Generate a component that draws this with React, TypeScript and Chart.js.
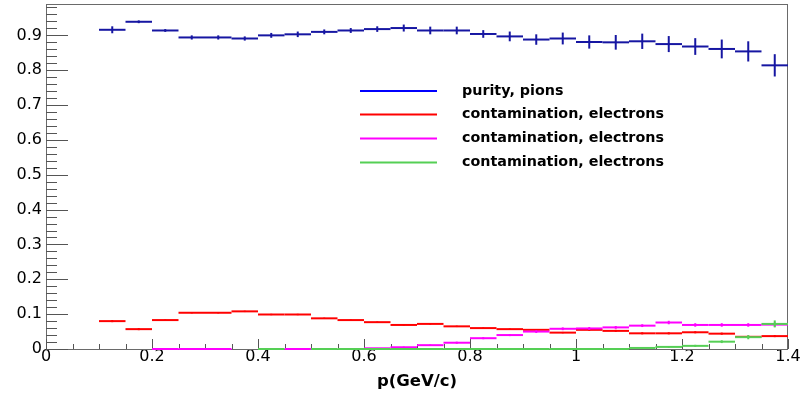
import React, { useEffect, useRef } from "react";
import { Chart, registerables } from "chart.js";

Chart.register(...registerables);

// ---- data ----
const binCenters = [
  0.125, 0.175, 0.225, 0.275, 0.325, 0.375, 0.425, 0.475, 0.525, 0.575, 0.625, 0.675, 0.725,
  0.775, 0.825, 0.875, 0.925, 0.975, 1.025, 1.075, 1.125, 1.175, 1.225, 1.275, 1.325, 1.375,
];
const binHalfWidth = 0.025;

const pionPurity = [
  0.916, 0.939, 0.914, 0.894, 0.894, 0.891, 0.9, 0.903, 0.91, 0.914, 0.918, 0.921, 0.914,
  0.914, 0.904, 0.897, 0.888, 0.891, 0.881, 0.88, 0.883, 0.875, 0.868, 0.861, 0.854, 0.814,
];
const pionPurityErr = [
  0.01, 0.004, 0.004, 0.006, 0.006, 0.006, 0.007, 0.008, 0.007, 0.007, 0.008, 0.01, 0.011,
  0.011, 0.011, 0.014, 0.015, 0.017, 0.019, 0.021, 0.022, 0.023, 0.024, 0.027, 0.029, 0.032,
];

const electronContamA = [
  0.08, 0.057, 0.083, 0.104, 0.104, 0.108, 0.099, 0.099, 0.088, 0.083, 0.077, 0.069, 0.072,
  0.065, 0.06, 0.057, 0.055, 0.047, 0.055, 0.052, 0.045, 0.045, 0.048, 0.044, 0.035, 0.037,
];
const electronContamAErr = [
  0.003, 0.003, 0.002, 0.002, 0.002, 0.002, 0.002, 0.002, 0.002, 0.002, 0.002, 0.002, 0.002,
  0.002, 0.002, 0.002, 0.002, 0.002, 0.003, 0.003, 0.003, 0.003, 0.003, 0.003, 0.003, 0.003,
];

const electronContamB = [
  null, null, 0, 0, 0, null, null, 0, null, null, 0.002, 0.005, 0.011,
  0.018, 0.031, 0.04, 0.05, 0.058, 0.059, 0.062, 0.067, 0.076, 0.069, 0.069, 0.069, 0.07,
];
const electronContamBErr = [
  0, 0, 0, 0, 0, 0, 0, 0, 0, 0, 0.001, 0.002, 0.002,
  0.003, 0.003, 0.003, 0.004, 0.004, 0.004, 0.004, 0.004, 0.005, 0.005, 0.005, 0.005, 0.006,
];

const electronContamC = [
  null, null, null, null, null, null, 0, null, 0, 0, 0, 0, 0,
  0, 0, 0, 0, 0, 0, 0, 0.003, 0.006, 0.009, 0.021, 0.034, 0.072,
];
const electronContamCErr = [
  0, 0, 0, 0, 0, 0, 0, 0, 0, 0, 0, 0, 0,
  0, 0, 0, 0, 0, 0, 0, 0.001, 0.002, 0.003, 0.004, 0.006, 0.01,
];

const xTickValues = [0, 0.2, 0.4, 0.6, 0.8, 1.0, 1.2, 1.4];
const xTickLabels = ["0", "0.2", "0.4", "0.6", "0.8", "1", "1.2", "1.4"];
const yTickValues = [0, 0.1, 0.2, 0.3, 0.4, 0.5, 0.6, 0.7, 0.8, 0.9];
const yTickLabels = ["0", "0.1", "0.2", "0.3", "0.4", "0.5", "0.6", "0.7", "0.8", "0.9"];

const xAxisTitle = "p(GeV/c)";
const legendLabels = [
  "purity, pions",
  "contamination, electrons",
  "contamination, electrons",
  "contamination, electrons",
];
const seriesColors = ["#1616a2", "#ff0000", "#ff00ff", "#55cf55"];
const legendColors = ["#0000ff", "#ff0000", "#ff00ff", "#55cf55"];

const seriesValues = [pionPurity, electronContamA, electronContamB, electronContamC];
const seriesErrors = [pionPurityErr, electronContamAErr, electronContamBErr, electronContamCErr];

// ---- plugins ----
const framePlugin = {
  id: "rootFrame",
  beforeDatasetsDraw(chart: any) {
    const { ctx, chartArea: a, scales } = chart;
    const xs = scales.x;
    const ys = scales.y;
    ctx.save();
    ctx.strokeStyle = "#6a6a6a";
    ctx.lineWidth = 1;
    ctx.strokeRect(Math.round(a.left) + 0.5, Math.round(a.top) + 0.5, Math.round(a.right - a.left) - 1, Math.round(a.bottom - a.top));
    ctx.strokeStyle = "#555555";
    ctx.beginPath();
    // x ticks
    for (let i = 0; i <= 28; i++) {
      const v = i * 0.05;
      const px = Math.round(xs.getPixelForValue(v)) + 0.5;
      const len = i % 4 === 0 ? 10 : 5;
      ctx.moveTo(px, a.bottom);
      ctx.lineTo(px, a.bottom - len);
    }
    // y ticks
    for (let i = 0; i <= 49; i++) {
      const v = i * 0.02;
      if (v > ys.max) break;
      const py = Math.round(ys.getPixelForValue(v)) + 0.5;
      const len = i % 5 === 0 ? 22 : 11;
      ctx.moveTo(a.left, py);
      ctx.lineTo(a.left + len, py);
    }
    ctx.stroke();
    ctx.restore();
  },
};

const histPlugin = {
  id: "histCrosses",
  afterDatasetsDraw(chart: any) {
    const { ctx, scales } = chart;
    const xs = scales.x;
    const ys = scales.y;
    chart.data.datasets.forEach((ds: any) => {
      ctx.save();
      ctx.strokeStyle = ds.borderColor;
      ctx.lineWidth = 2;
      ds.data.forEach((p: any) => {
        if (p.y === null || p.y === undefined) return;
        const xl = xs.getPixelForValue(p.x - binHalfWidth);
        const xr = xs.getPixelForValue(p.x + binHalfWidth);
        const xc = xs.getPixelForValue(p.x);
        const yc = ys.getPixelForValue(p.y);
        ctx.beginPath();
        ctx.moveTo(xl, yc);
        ctx.lineTo(xr, yc);
        ctx.stroke();
        if (p.e > 0) {
          ctx.beginPath();
          ctx.moveTo(xc, ys.getPixelForValue(p.y - p.e));
          ctx.lineTo(xc, ys.getPixelForValue(p.y + p.e));
          ctx.stroke();
        }
      });
      ctx.restore();
    });
  },
};

const legendPlugin = {
  id: "rootLegend",
  afterDraw(chart: any) {
    const { ctx } = chart;
    const rows = [91, 114.5, 138.5, 162.5];
    ctx.save();
    ctx.font = "bold 14.3px 'DejaVu Sans'";
    ctx.textBaseline = "middle";
    ctx.textAlign = "left";
    legendLabels.forEach((label, i) => {
      const y = rows[i];
      ctx.strokeStyle = legendColors[i];
      ctx.lineWidth = 2;
      ctx.beginPath();
      ctx.moveTo(360, y);
      ctx.lineTo(437, y);
      ctx.stroke();
      ctx.fillStyle = "#000000";
      ctx.fillText(label, 462, y);
    });
    ctx.restore();
  },
};

export default function App() {
  const canvasRef = useRef<HTMLCanvasElement | null>(null);

  useEffect(() => {
    const canvas = canvasRef.current;
    if (!canvas) return;
    const datasets = seriesValues.map((vals, si) => ({
      label: legendLabels[si],
      data: binCenters.map((c, i) => ({ x: c, y: vals[i], e: seriesErrors[si][i] })),
      borderColor: seriesColors[si],
      backgroundColor: seriesColors[si],
      pointRadius: 0,
      showLine: false,
    }));

    const chart = new Chart(canvas, {
      type: "scatter",
      data: { datasets } as any,
      plugins: [framePlugin, histPlugin, legendPlugin],
      options: {
        animation: false,
        responsive: false,
        devicePixelRatio: 1,
        layout: { padding: { top: 4, right: 16, left: 0, bottom: 0 } },
        plugins: {
          legend: { display: false },
          tooltip: { enabled: false },
        },
        scales: {
          x: {
            type: "linear",
            min: 0,
            max: 1.4,
            afterBuildTicks: (s: any) => {
              s.ticks = xTickValues.map((v) => ({ value: v }));
            },
            afterFit: (s: any) => {
              s.height = 47;
              s.paddingLeft = 0;
              s.paddingRight = 0;
            },
            grid: { display: false, drawTicks: false },
            border: { display: false },
            ticks: {
              autoSkip: false,
              maxRotation: 0,
              padding: 0,
              color: "#000000",
              font: { family: "'DejaVu Sans'", size: 16, lineHeight: 1 },
              callback: (_v: any, i: number) => xTickLabels[i],
            },
            title: {
              display: true,
              text: xAxisTitle,
              color: "#000000",
              font: { family: "'DejaVu Sans'", size: 16.5, weight: "bold" },
              padding: { top: 0, bottom: 4 },
            },
          },
          y: {
            type: "linear",
            min: 0,
            max: 0.99,
            afterBuildTicks: (s: any) => {
              s.ticks = yTickValues.map((v) => ({ value: v }));
            },
            afterFit: (s: any) => {
              s.width = 46;
              s.paddingTop = 0;
              s.paddingBottom = 0;
            },
            grid: { display: false, drawTicks: false },
            border: { display: false },
            ticks: {
              autoSkip: false,
              padding: 4,
              color: "#000000",
              font: { family: "'DejaVu Sans'", size: 16 },
              callback: (_v: any, i: number) => yTickLabels[i],
            },
          },
        },
      } as any,
    });
    return () => chart.destroy();
  }, []);

  return (
    <div style={{ position: "fixed", left: 0, top: 0, width: 804, height: 396, background: "#ffffff" }}>
      <canvas ref={canvasRef} width={804} height={396} style={{ display: "block" }} />
    </div>
  );
}
